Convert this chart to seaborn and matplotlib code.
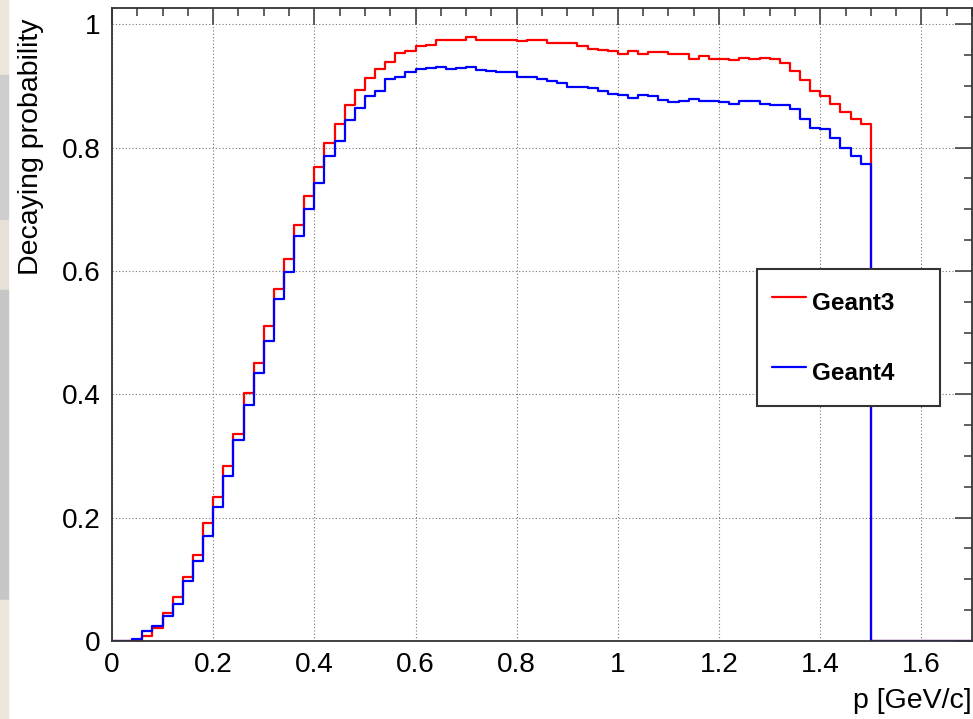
import numpy as np
import pandas as pd
import seaborn as sns
import matplotlib.pyplot as plt
from matplotlib.patches import Rectangle
from matplotlib.ticker import MultipleLocator, FuncFormatter

# 0.02 GeV/c bins from 0 to 1.7
bin_edges = np.round(np.arange(0, 1.7001, 0.02), 2)
bin_centers = (bin_edges[:-1] + bin_edges[1:]) / 2

geant3 = [0.000, 0.000, 0.001, 0.008, 0.021, 0.045, 0.072, 0.103, 0.140, 0.192,
          0.234, 0.284, 0.336, 0.402, 0.451, 0.511, 0.570, 0.619, 0.674, 0.721,
          0.769, 0.808, 0.839, 0.869, 0.893, 0.913, 0.927, 0.939, 0.953, 0.957,
          0.965, 0.967, 0.974, 0.974, 0.974, 0.979, 0.974, 0.975, 0.974, 0.974,
          0.973, 0.974, 0.974, 0.970, 0.969, 0.969, 0.965, 0.960, 0.959, 0.957,
          0.952, 0.957, 0.952, 0.955, 0.955, 0.952, 0.952, 0.943, 0.949, 0.944,
          0.943, 0.942, 0.946, 0.944, 0.946, 0.944, 0.937, 0.924, 0.910, 0.892,
          0.884, 0.870, 0.858, 0.847, 0.838, 0.000, 0.000, 0.000, 0.000, 0.000,
          0.000, 0.000, 0.000, 0.000, 0.000]

geant4 = [0.000, 0.000, 0.004, 0.017, 0.024, 0.041, 0.060, 0.097, 0.129, 0.170,
          0.218, 0.268, 0.326, 0.383, 0.435, 0.486, 0.554, 0.598, 0.656, 0.701,
          0.743, 0.787, 0.811, 0.845, 0.865, 0.884, 0.892, 0.911, 0.915, 0.922,
          0.927, 0.929, 0.931, 0.927, 0.929, 0.931, 0.926, 0.924, 0.923, 0.923,
          0.915, 0.915, 0.911, 0.908, 0.905, 0.899, 0.899, 0.896, 0.892, 0.887,
          0.886, 0.881, 0.886, 0.883, 0.878, 0.874, 0.875, 0.879, 0.875, 0.876,
          0.874, 0.871, 0.876, 0.875, 0.871, 0.869, 0.869, 0.862, 0.847, 0.832,
          0.830, 0.815, 0.800, 0.787, 0.774, 0.000, 0.000, 0.000, 0.000, 0.000,
          0.000, 0.000, 0.000, 0.000, 0.000]

df = pd.DataFrame({"p": bin_centers, "Geant3": geant3, "Geant4": geant4})

sns.set_theme(style="white")
plt.rcParams["font.family"] = ["Liberation Sans", "DejaVu Sans"]

fig = plt.figure(figsize=(9.73, 7.19), dpi=100)

# slide background peeking in at the left edge of the screenshot
W, H = 973, 719
for y0, y1, col in [(0, 75, "#ebe5dc"), (75, 220, "#cdcdcd"), (220, 290, "#e6e0d8"),
                    (290, 600, "#c6c6c6"), (600, 719, "#ebe5dc")]:
    fig.patches.append(Rectangle((0, 1 - y1 / H), 8 / W, (y1 - y0) / H,
                                 transform=fig.transFigure, color=col, zorder=0))

ax = fig.add_axes([0.1151, 0.1085, 0.8839, 0.880])

# step histograms, blue drawn over red
sns.histplot(data=df, x="p", weights="Geant3", binwidth=0.02, binrange=(0, 1.7),
             element="step", fill=False, color="#ff0000", linewidth=1.6,
             label="Geant3", ax=ax)
sns.histplot(data=df, x="p", weights="Geant4", binwidth=0.02, binrange=(0, 1.7),
             element="step", fill=False, color="#0000ff", linewidth=1.6,
             label="Geant4", ax=ax)

ax.set_xlim(0, 1.7)
ax.set_ylim(0, 1.026)

ax.xaxis.set_major_locator(MultipleLocator(0.2))
ax.xaxis.set_minor_locator(MultipleLocator(0.05))
ax.yaxis.set_major_locator(MultipleLocator(0.2))
ax.yaxis.set_minor_locator(MultipleLocator(0.05))
fmt = FuncFormatter(lambda v, pos: f"{v:g}")
ax.xaxis.set_major_formatter(fmt)
ax.yaxis.set_major_formatter(fmt)

ax.grid(True, which="major", linestyle=(0, (1, 2)), color="#777777", linewidth=0.8)
ax.set_axisbelow(True)

for sp in ax.spines.values():
    sp.set_color("#333333")
    sp.set_linewidth(1.3)

ax.tick_params(which="both", direction="in", top=True, right=True, color="#444444", width=1.2)
ax.tick_params(which="major", length=12, labelsize=20.2, pad=8, labelcolor="black")
ax.tick_params(which="minor", length=6)

ax.set_xlabel("p [GeV/c]", fontsize=20.5, loc="right", labelpad=7, color="black")
ax.set_ylabel("Decaying probability", fontsize=20.5, loc="top", color="black")
ax.yaxis.set_label_coords(-0.079, 0.984)

leg = ax.legend(loc="upper left", bbox_to_anchor=(0.75, 0.3746, 0.2128, 0.2134),
                mode="expand", frameon=True, fancybox=False, framealpha=1,
                prop={"family": "Liberation Sans", "weight": "bold", "size": 17.5},
                handlelength=1.4, handleheight=2.0, handletextpad=0.25,
                labelspacing=1.33, borderpad=0.6, borderaxespad=0)
leg.get_frame().set_edgecolor("#333333")
leg.get_frame().set_linewidth(1.5)
for t in leg.get_texts():
    t.set_color("black")

fig.savefig("out.png", dpi=100)
